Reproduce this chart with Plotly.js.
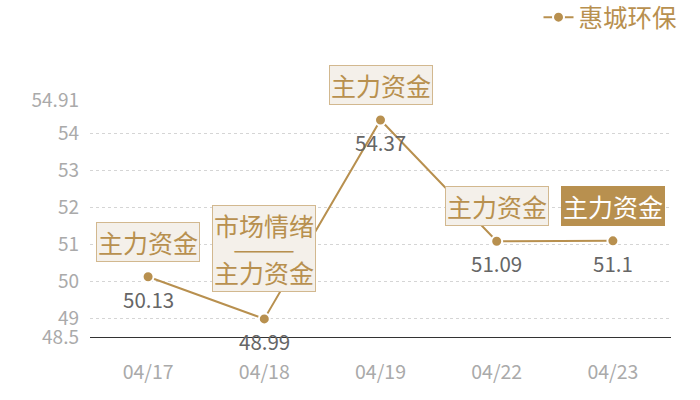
<!DOCTYPE html>
<html>
<head>
<meta charset="utf-8">
<script src="https://cdn.plot.ly/plotly-3.0.1.min.js"></script>
<style>
  html, body { margin: 0; padding: 0; background: #ffffff; }
  #chart { width: 700px; height: 400px; }
</style>
</head>
<body>
<div id="chart"></div>
<script>
// data
var dates = ['04/17', '04/18', '04/19', '04/22', '04/23'];
var prices = [50.13, 48.99, 54.37, 51.09, 51.1];
var priceLabels = ['50.13', '48.99', '54.37', '51.09', '51.1'];
var tags = [['主力资金'], ['市场情绪', '———', '主力资金'], ['主力资金'], ['主力资金'], ['主力资金']];
var yTicks = [48.5, 49, 50, 51, 52, 53, 54, 54.91];
var seriesName = '惠城环保';

var gold = '#b8904f';
var font = '"Noto Sans CJK SC", "Microsoft YaHei", sans-serif';

var trace = {
  x: dates,
  y: prices,
  name: seriesName,
  type: 'scatter',
  mode: 'lines+markers',
  line: {color: gold, width: 2},
  marker: {color: gold, size: 11, line: {color: '#ffffff', width: 2}},
  cliponaxis: false,
  hoverinfo: 'skip'
};

var annotations = [];
// value labels under each point
dates.forEach(function (d, i) {
  annotations.push({
    x: d, y: prices[i], xref: 'x', yref: 'y',
    text: priceLabels[i], showarrow: false,
    yshift: -22,
    font: {family: font, size: 20.5, color: '#666666'}
  });
});
// tag boxes above each point, the last one highlighted
dates.forEach(function (d, i) {
  var last = (i == dates.length - 1);
  var lines = tags[i];
  var multi = lines.length > 1;
  // multi-line box: small base font keeps the line spacing tight, spans keep glyphs big
  var text = multi
    ? lines.map(function (t) { return '<span style="font-size:25px">' + t + '</span>'; }).join('<br>')
    : lines[0];
  annotations.push({
    x: d, y: prices[i], xref: 'x', yref: 'y',
    text: text, showarrow: false,
    yanchor: 'middle',
    yshift: multi ? 70 : 35,
    bgcolor: last ? gold : '#f4f0ea',
    bordercolor: last ? gold : '#d2b88f',
    borderwidth: 1,
    borderpad: 1,
    font: {family: font, size: multi ? 18 : 25, color: last ? '#ffffff' : gold}
  });
});

var layout = {
  width: 700,
  height: 400,
  margin: {l: 90, r: 29, t: 100, b: 63, autoexpand: false},
  paper_bgcolor: '#ffffff',
  plot_bgcolor: '#ffffff',
  font: {family: font},
  showlegend: true,
  legend: {
    xref: 'container', yref: 'container',
    x: 0.975, y: 0.957,
    xanchor: 'right', yanchor: 'middle',
    font: {family: font, size: 24.5, color: gold},
    bgcolor: 'rgba(0,0,0,0)'
  },
  xaxis: {
    type: 'category',
    range: [-0.5, 4.5],
    showgrid: false,
    showline: true,
    linecolor: '#333333',
    linewidth: 1,
    ticks: '',
    ticklabelstandoff: 18,
    tickfont: {family: font, size: 19.5, color: '#aaaaaa'},
    fixedrange: true
  },
  yaxis: {
    range: [48.5, 54.91],
    tickvals: yTicks,
    ticktext: yTicks.map(String),
    showgrid: true,
    gridcolor: '#d5d5d5',
    griddash: 'dot',
    gridwidth: 1,
    zeroline: false,
    showline: false,
    ticks: '',
    ticklabelstandoff: 10,
    tickfont: {family: font, size: 19, color: '#aaaaaa'},
    fixedrange: true
  },
  annotations: annotations
};

Plotly.newPlot('chart', [trace], layout, {staticPlot: true, displayModeBar: false});
</script>
</body>
</html>
